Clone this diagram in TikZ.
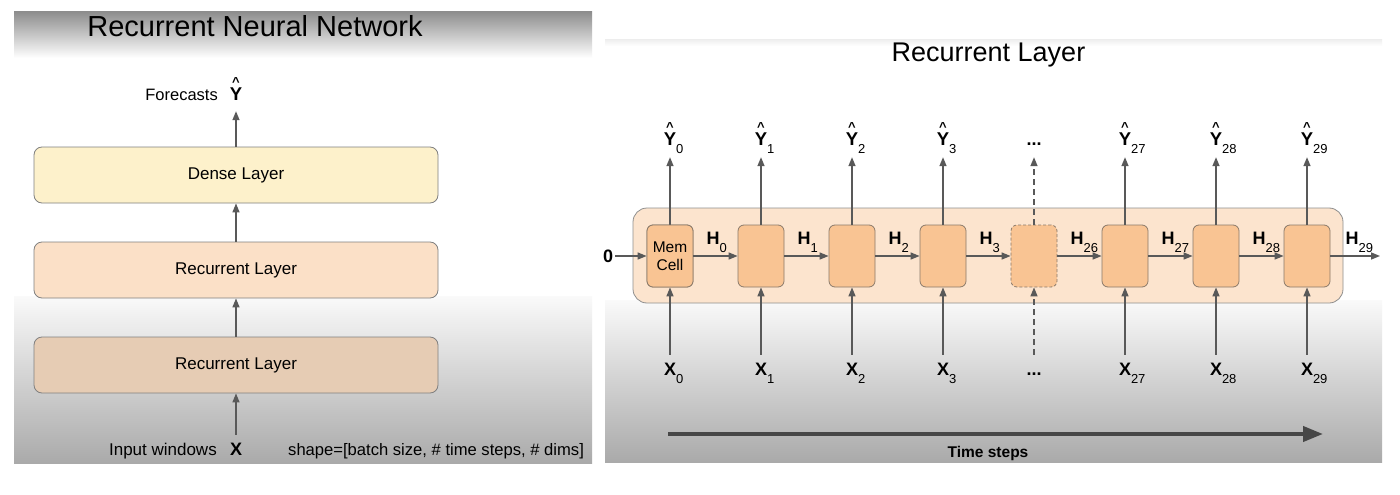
\documentclass[tikz,border=0pt]{standalone}
\usepackage{fontspec}
\setmainfont{Liberation Sans}
\usetikzlibrary{arrows.meta}
\definecolor{denseFill}{HTML}{FDF1CB}
\definecolor{recOneFill}{HTML}{FBE0C7}
\definecolor{recTwoFill}{HTML}{E6CCB4}
\definecolor{boxBorder}{HTML}{808080}
\definecolor{outerFill}{HTML}{FCE4CE}
\definecolor{outerBorder}{HTML}{8F8F8F}
\definecolor{cellFill}{HTML}{F9C493}
\definecolor{cellBorder}{HTML}{8A7A6A}
\definecolor{arrowGray}{HTML}{595959}
\definecolor{tsGray}{HTML}{474747}
\definecolor{bgTop}{HTML}{8E8E8E}
\definecolor{bgBot}{HTML}{AAAAAA}
\newcommand\yhat{\ooalign{Y\cr\hidewidth\raisebox{14pt}{\fontsize{13}{13}\selectfont\textasciicircum}\hidewidth\cr}}
\newcommand\subs[1]{\rlap{\raisebox{-8pt}{\fontseries{m}\fontsize{13}{13}\selectfont #1}}}
\tikzset{
  layerbox/.style={draw=boxBorder, line width=0.8pt, rounded corners=8pt,
    minimum width=404pt, minimum height=56pt, font=\fontsize{17}{20}\selectfont},
  cellbox/.style={draw=cellBorder, fill=cellFill, rounded corners=6pt,
    minimum width=46pt, minimum height=62pt, inner sep=0pt, line width=0.8pt},
  arr/.style={draw=arrowGray, line width=1.4pt, -{Triangle[length=9pt,width=7pt]}},
  lbl/.style={anchor=base, inner sep=0pt, text height=13pt, text depth=8pt,
    font=\bfseries\fontsize{18}{20}\selectfont},
  ylbl/.style={lbl, font=\bfseries\fontsize{18.5}{20}\selectfont},
  plain/.style={inner sep=0pt, font=\fontsize{17}{20}\selectfont},
}
\begin{document}
\begin{tikzpicture}[x=1pt,y=-1pt]
\useasboundingbox (0,0) rectangle (1400,495);
\fill[white] (0,0) rectangle (1400,495);
% ---------- left panel background
\fill[white] (14,12) rectangle (592,463);
\shade[top color=bgTop, bottom color=white] (14,12) rectangle (592,58);
\shade[top color=white!98!black, bottom color=bgBot] (14,296) rectangle (592,463);
% ---------- right panel background
\shade[top color=black!6, bottom color=white] (605,40) rectangle (1382,46);
\shade[top color=white!98!black, bottom color=bgBot] (605,300) rectangle (1382,462);

% ---------- left panel
\node[anchor=base, inner sep=0pt, font=\fontsize{29}{32}\selectfont] (titleL) at (255,37) {Recurrent Neural Network};
\node[layerbox, fill=denseFill] (dense) at (236,175) {Dense Layer};
\node[layerbox, fill=recOneFill] (recA) at (236,270) {Recurrent Layer};
\node[layerbox, fill=recTwoFill] (recB) at (236,365) {Recurrent Layer};
\node[ylbl] (yL) at (236,100) {\yhat};
\node[plain, anchor=base east, font=\fontsize{16.5}{20}\selectfont] (fc) at (218,100) {Forecasts};
\node[lbl] (xL) at (236,455) {X};
\node[plain, anchor=base east] (iw) at (217,455) {Input windows};
\node[plain, anchor=base west, font=\fontsize{16.6}{20}\selectfont] (shp) at (288,455) {shape=[batch size, \# time steps, \# dims]};
\draw[arr, shorten <=7pt] (xL.north) -- (recB.south);
\draw[arr] (recB.north) -- (recA.south);
\draw[arr] (recA.north) -- (dense.south);
\draw[arr, shorten >=3pt] (dense.north) -- (yL.south);

% ---------- right panel
\node[anchor=base, inner sep=0pt, font=\fontsize{27}{30}\selectfont] (titleR) at (988.5,62) {Recurrent Layer};
\node[draw=outerBorder, fill=outerFill, line width=0.8pt, rounded corners=14pt,
  minimum width=710pt, minimum height=95pt] (layer) at (988,255.5) {};
\foreach \i/\s in {0/0,1/1,2/2,3/3,5/27,6/28,7/29}{
  \node[cellbox] (c\i) at ({670+91*\i},256) {};
  \node[ylbl] (y\i) at ({670+91*\i},145) {\yhat\subs{\s}};
  \node[lbl] (x\i) at ({670+91*\i},375) {X\subs{\s}};
  \draw[arr, shorten >=4pt] (c\i.north) -- (y\i.south);
  \draw[arr, shorten <=7pt] (x\i.north) -- (c\i.south);
}
\node[cellbox, dashed, dash pattern=on 3pt off 2pt] (c4) at (1034,256) {};
\node[lbl] (y4) at (1034,145) {...};
\node[lbl] (x4) at (1034,375) {...};
\draw[arr, dash pattern=on 6pt off 4pt, shorten >=4pt] (c4.north) -- (y4.south);
\draw[arr, dash pattern=on 6pt off 4pt, shorten <=7pt] (x4.north) -- (c4.south);
\node[cellbox, align=center, font=\fontsize{15.5}{18}\selectfont] (c0) at (670,256) {Mem\\Cell};

\node[inner sep=2pt, font=\bfseries\fontsize{18}{20}\selectfont] (zero) at (608,256) {0};
\draw[arr] (zero) -- (c0.west);
\foreach \a/\b/\s in {0/1/0,1/2/1,2/3/2,3/4/3,4/5/26,5/6/27,6/7/28}{
  \draw[arr] (c\a.east) -- (c\b.west);
  \node[lbl, anchor=base west] (h\a) at ([xshift=13pt]c\a.east |- 0,244) {H\subs{\s}};
}
\coordinate (hend) at (1380,256);
\draw[arr] (c7.east) -- (hend);
\node[lbl, anchor=base west] (h7) at ([xshift=15pt]c7.east |- 0,244) {H\subs{29}};

\coordinate (tsA) at (668,434);
\coordinate (tsB) at (1323,434);
\draw[draw=tsGray, line width=4pt, -{Triangle[length=20pt,width=15pt]}] (tsA) -- (tsB);
\node[anchor=base, inner sep=0pt, font=\bfseries\fontsize{15.5}{18}\selectfont] (ts) at (988,457) {Time steps};
\end{tikzpicture}
\end{document}
